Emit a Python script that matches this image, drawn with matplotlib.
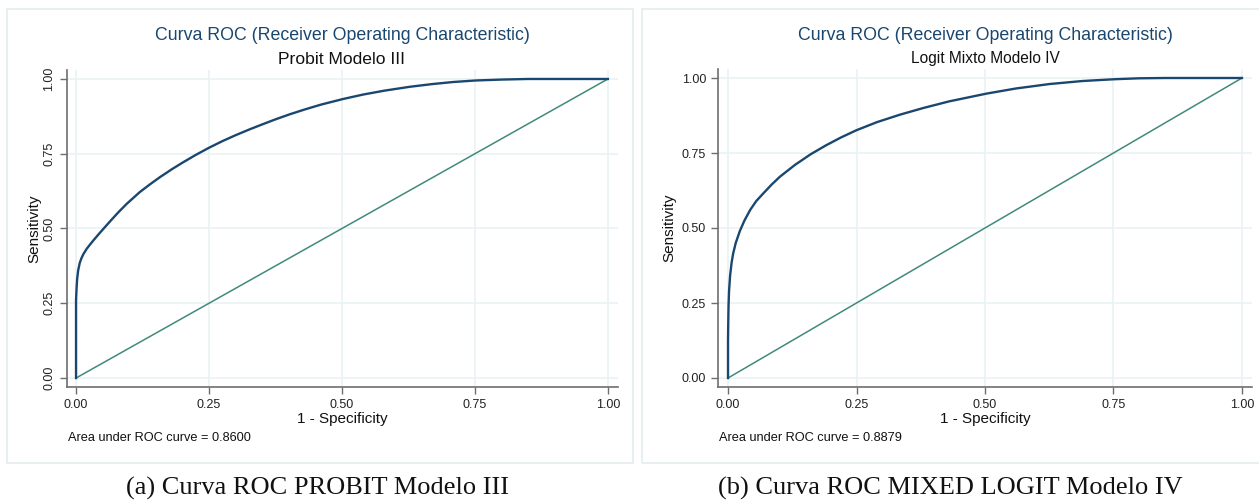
import matplotlib.pyplot as plt
from matplotlib.patches import Rectangle

# ROC points (1 - specificity, sensitivity)
probit_fpr = [0.0, 0.0, 0.001, 0.002, 0.004, 0.007, 0.010, 0.014, 0.02, 0.027,
              0.033, 0.045, 0.055, 0.064, 0.08, 0.095, 0.12, 0.14, 0.158, 0.18,
              0.2, 0.225, 0.25, 0.275, 0.3, 0.327, 0.35, 0.375, 0.402, 0.43,
              0.46, 0.502, 0.54, 0.58, 0.628, 0.67, 0.71, 0.752, 0.8, 0.85,
              0.9, 1.0]
probit_tpr = [0.0, 0.26, 0.3, 0.33, 0.36, 0.385, 0.40, 0.415, 0.432, 0.448,
              0.461, 0.486, 0.506, 0.524, 0.555, 0.582, 0.622, 0.649, 0.672, 0.698,
              0.72, 0.746, 0.77, 0.792, 0.812, 0.832, 0.848, 0.865, 0.882, 0.898,
              0.914, 0.933, 0.948, 0.961, 0.974, 0.983, 0.99, 0.995, 0.998, 1.0,
              1.0, 1.0]

logit_fpr = [0.0, 0.0, 0.0005, 0.001, 0.002, 0.004, 0.007, 0.010, 0.015, 0.023,
             0.032, 0.043, 0.055, 0.069, 0.085, 0.101, 0.13, 0.16, 0.19, 0.22,
             0.25, 0.29, 0.335, 0.38, 0.43, 0.503, 0.56, 0.626, 0.69, 0.753,
             0.8, 0.85, 0.9, 1.0]
logit_tpr = [0.0, 0.127, 0.19, 0.24, 0.29, 0.34, 0.385, 0.415, 0.45, 0.49,
             0.525, 0.56, 0.59, 0.616, 0.645, 0.671, 0.71, 0.745, 0.775, 0.802,
             0.826, 0.853, 0.878, 0.9, 0.922, 0.948, 0.965, 0.98, 0.99, 0.996,
             0.999, 1.0, 1.0, 1.0]

ticks = [0.0, 0.25, 0.5, 0.75, 1.0]
tick_labels = ['0.00', '0.25', '0.50', '0.75', '1.00']

main_title = 'Curva ROC (Receiver Operating Characteristic)'
subtitles = ['Probit Modelo III', 'Logit Mixto Modelo IV']
subtitle_sizes = [12.6, 11.2]
auc_texts = ['Area under ROC curve = 0.8600', 'Area under ROC curve = 0.8879']
captions = ['(a) Curva ROC PROBIT Modelo III', '(b) Curva ROC MIXED LOGIT Modelo IV']

W, H = 1259, 501
navy = '#1a476f'
teal = '#3f8a7c'
grid_c = '#eaf2f3'
spine_c = '#6e6e6e'

plt.rcParams['font.family'] = ['Liberation Sans', 'DejaVu Sans']

fig = plt.figure(figsize=(W / 100, H / 100), dpi=100)


def fx(px):
    return px / W


def fy(py):
    return 1 - py / H


# panel boxes
for x0, x1 in [(7, 633), (642, 1262)]:
    fig.patches.append(Rectangle((fx(x0), fy(463)), fx(x1 - x0), (463 - 9) / H,
                                 transform=fig.transFigure, fill=False,
                                 edgecolor='#e4eced', linewidth=1.2))

# axes geometry in pixels: left, right, top, bottom
axes_px = [(67, 618, 70, 387), (718, 1252, 69, 387)]
xlims = [(-0.017, 1.019), (-0.0195, 1.0195)]
data = [(probit_fpr, probit_tpr), (logit_fpr, logit_tpr)]
centers = [342, 985]

for i in range(2):
    l, r, t, b = axes_px[i]
    ax = fig.add_axes([fx(l), fy(b), fx(r - l), (b - t) / H])
    fpr, tpr = data[i]
    ax.plot(fpr, tpr, color=navy, linewidth=1.7, zorder=3,
            solid_joinstyle='round')
    ax.plot([0, 1], [0, 1], color=teal, linewidth=1.1, zorder=2)
    ax.set_xlim(*xlims[i])
    ax.set_ylim(-0.03, 1.03)
    ax.set_xticks(ticks)
    ax.set_xticklabels(tick_labels)
    ax.set_yticks(ticks)
    if i == 0:
        ax.set_yticklabels(tick_labels, rotation=90, va='center')
    else:
        ax.set_yticklabels(tick_labels)
    ax.grid(True, color=grid_c, linewidth=1.2)
    ax.set_axisbelow(True)
    for s in ['top', 'right']:
        ax.spines[s].set_visible(False)
    for s in ['left', 'bottom']:
        ax.spines[s].set_color(spine_c)
        ax.spines[s].set_linewidth(1.2)
    ax.tick_params(colors=spine_c, labelcolor='#222222', labelsize=9,
                   length=5, width=1.0)
    ax.set_xlabel('1 - Specificity', fontsize=11, color='#111111', labelpad=1)
    ax.set_ylabel('Sensitivity', fontsize=11, color='#111111',
                  labelpad=[1, 4][i])

    cx = fx(centers[i])
    fig.text(cx, fy(36), main_title, ha='center', va='center',
             fontsize=12.8, color=navy)
    fig.text(cx, fy(59), subtitles[i], ha='center', va='center',
             fontsize=subtitle_sizes[i], color='#111111')
    fig.text(fx(l + 1), fy(438), auc_texts[i], ha='left', va='center',
             fontsize=9.2, color='#111111')
    fig.text(fx([317, 950][i]), fy(488), captions[i], ha='center', va='center',
             fontsize=19, family=['Liberation Serif', 'DejaVu Serif'],
             color='#111111')

fig.savefig('out.png', dpi=100)
